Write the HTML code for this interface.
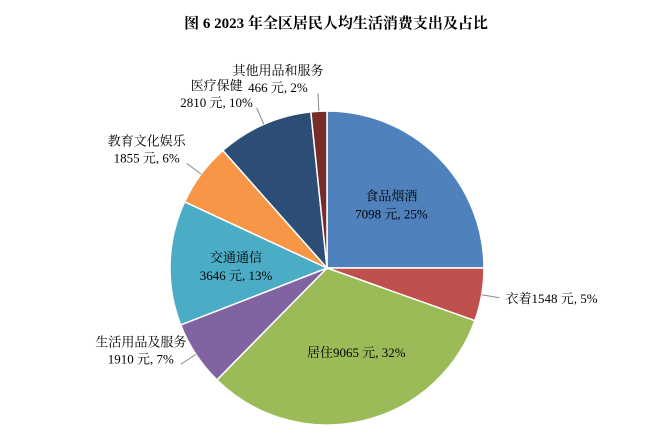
<!DOCTYPE html>
<html><head><meta charset="utf-8"><style>
body{margin:0;background:#fff;}
svg text{font-family:"Liberation Serif","Noto Serif CJK SC","Noto Sans CJK SC",serif;font-size:13px;fill:#000;}
</style></head><body>
<svg width="672" height="443" viewBox="0 0 672 443">
<text x="336" y="28" text-anchor="middle" style="font-weight:bold;font-size:15px">图 6  2023 年全区居民人均生活消费支出及占比</text>
<g id="slices"></g><g id="labels"></g>
</svg>
<script>
const categories=["食品烟酒","衣着","居住","生活用品及服务","交通通信","教育文化娱乐","医疗保健","其他用品和服务"];
const values=[7098,1548,9065,1910,3646,1855,2810,466];
const percents=["25%","5%","32%","7%","13%","6%","10%","2%"];
const colors=["#4F81BD","#C0504D","#9BBB59","#8064A2","#4BACC6","#F79646","#2C4D75","#772C2A"];
const cx=327,cy=268,r=157;
const total=values.reduce((a,b)=>a+b,0);
const NS="http://www.w3.org/2000/svg";
const gs=document.getElementById('slices'),gl=document.getElementById('labels');
function pt(a,rr){return [cx+rr*Math.sin(a),cy-rr*Math.cos(a)];}
let acc=0;
const inside=[true,false,true,false,true,false,false,false];
values.forEach((v,i)=>{
 const a0=acc/total*2*Math.PI;acc+=v;const a1=acc/total*2*Math.PI;
 const p0=pt(a0,r),p1=pt(a1,r);
 const p=document.createElementNS(NS,'path');
 p.setAttribute('d',`M${cx},${cy}L${p0[0]},${p0[1]}A${r},${r} 0 ${a1-a0>Math.PI?1:0} 1 ${p1[0]},${p1[1]}Z`);
 p.setAttribute('fill',colors[i]);p.setAttribute('stroke','#fff');p.setAttribute('stroke-width','1.5');
 
 
 gs.appendChild(p);
 const am=(a0+a1)/2;
 const txt=document.createElementNS(NS,'text');
 
 
 const l2=v+" 元, "+percents[i];
 if(i===2){
  const q=pt(am,r*0.55);
  txt.setAttribute('text-anchor','middle');
  txt.setAttribute('x',q[0]+10);txt.setAttribute('y',q[1]+5);
  txt.textContent=categories[i]+l2;
 } else if(inside[i]){
  const q=pt(am,r*0.58);
  txt.setAttribute('text-anchor','middle');
  txt.innerHTML=`<tspan x="${q[0]}" y="${q[1]-3}">${categories[i]}</tspan><tspan x="${q[0]}" y="${q[1]+15}">${l2}</tspan>`;
 } else {
  const e=pt(am,r),o=pt(am,r+18);
  const right=Math.sin(am)>0;
  const ln=document.createElementNS(NS,'polyline');
  ln.setAttribute('points',`${e[0]},${e[1]} ${o[0]},${o[1]}`);
  ln.setAttribute('stroke','#888');ln.setAttribute('fill','none');
  
  
  gl.appendChild(ln);
  if(i===1){
   txt.setAttribute('x',o[0]+6);txt.setAttribute('y',o[1]+5);
   txt.textContent=categories[i]+l2;
  } else {
   txt.setAttribute('text-anchor','middle');
   const lx=o[0]+(right?0:-40),ly=o[1]-18;
   txt.innerHTML=`<tspan x="${lx}" y="${ly}">${categories[i]}</tspan><tspan x="${lx}" y="${ly+17}">${l2}</tspan>`;
  }
 }
 gl.appendChild(txt);
});
</script>
</body></html>
